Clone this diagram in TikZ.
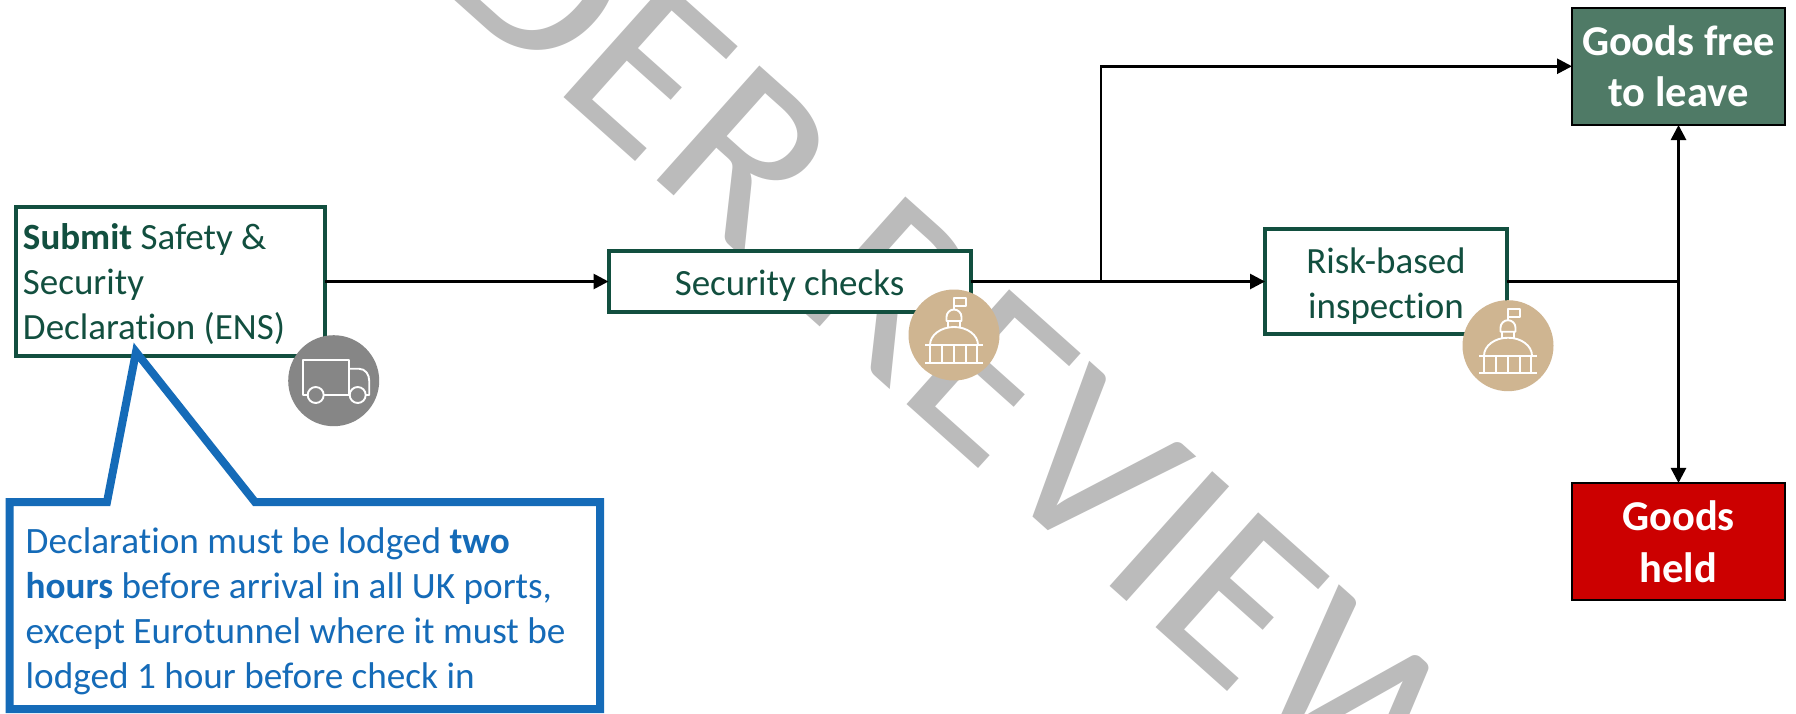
\documentclass[tikz,border=0pt]{standalone}
\usepackage{fontspec}
\setmainfont[Ligatures=NoCommon]{Carlito}
\usetikzlibrary{arrows.meta}
\definecolor{boxgreen}{HTML}{124F3F}
\definecolor{freegreen}{HTML}{4F7A66}
\definecolor{heldred}{HTML}{CC0000}
\definecolor{tan}{HTML}{CFB591}
\definecolor{truckgrey}{HTML}{868686}
\definecolor{callblue}{HTML}{156BB8}
\definecolor{markgrey}{HTML}{BBBBBB}
\newcommand\lifted[1]{\rule{0pt}{#1pt}}
\tikzset{
  x=1pt,y=-1pt,
  stepbox/.style={draw=boxgreen,line width=4pt,fill=white,text=boxgreen,inner sep=0pt,outer sep=0pt,align=center,font=\fontsize{37}{45}\selectfont},
  endbox/.style={draw=black,line width=2pt,text=white,inner sep=0pt,outer sep=0pt,align=center,minimum width=213pt,minimum height=117.5pt,font=\bfseries\fontsize{42.5}{51.5}\selectfont},
  badge/.style={circle,inner sep=0pt,outer sep=0pt,minimum size=91pt},
  link/.style={draw=black,line width=2.7pt,-{Triangle[length=15pt,width=15pt]}},
  plain/.style={draw=black,line width=2.7pt},
  twoway/.style={draw=black,line width=2.7pt,{Triangle[length=15pt,width=15pt]}-{Triangle[length=15pt,width=15pt]}},
  icon/.style={draw=white,line width=1.9pt,line join=round},
  wmark/.style={text=markgrey,font=\fontsize{240}{240}\selectfont,inner sep=0pt,rotate=-41.8,xscale=1.066},
}
\begin{document}
\begin{tikzpicture}
\useasboundingbox (0,0) rectangle (1796,713);
\begin{scope}
\clip (0,0) rectangle (1796,713);
\fill[white] (0,0) rectangle (1796,713);
\node[wmark,anchor=base west] (wm) at (187,-239) {UNDER REVIEW};
\end{scope}

\node[stepbox,minimum width=309pt,minimum height=149pt,text width=295pt,align=flush left] (ens) at (170.5,281.5) {\lifted{32}\textbf{Submit} Safety \&\\Security\\Declaration (ENS)};
\node[stepbox,minimum width=362pt,minimum height=61pt] (sec) at (789.5,281.5) {\lifted{33}Security checks};
\node[stepbox,minimum width=242pt,minimum height=105pt] (risk) at (1386,281.5) {\lifted{35}Risk-based\\inspection};
\node[endbox,fill=freegreen] (free) at (1678.5,66.25) {Goods free\\to leave};
\node[endbox,fill=heldred] (held) at (1678.5,541.7) {Goods\\held};

\coordinate (split) at (1101,281.5);
\coordinate (join) at (1678.5,281.5);
\draw[link] (ens.east) -- (sec.west);
\draw[link] (sec.east) -- (risk.west);
\draw[link] (split) |- (free.west);
\draw[plain] (risk.east) -- (join);
\draw[twoway] (free.south) -- (held.north);

\node[badge,fill=truckgrey] (truck) at (333.7,380.7) {};
\node[badge,fill=tan] (dome1) at (954,335) {};
\node[badge,fill=tan] (dome2) at (1508,345.7) {};

% truck icon
\begin{scope}[shift={(truck.center)}]
\draw[icon] (-26,14.3) -- (-31,14.3) -- (-31,-20.5) -- (15,-20.5) -- (15,14.3) (-10,14.3) -- (16,14.3);
\draw[icon] (15,-12) -- (25,-12) .. controls (32,-12) and (35.5,-6) .. (35.5,0) -- (35.5,14.3) -- (32,14.3);
\draw[icon] (-18,14.3) circle (8) (24,14.3) circle (8);
\end{scope}
% dome icons
\foreach \d in {dome1,dome2}{
\begin{scope}[shift={(\d.center)}]
\draw[icon] (-28.7,10) -- (28.7,10) (-28.7,27.7) -- (28.7,27.7);
\draw[icon] (-24,10) arc[start angle=180,end angle=360,x radius=24,y radius=18];
\draw[icon] (-24,10) -- (-24,27.7) (-12,10) -- (-12,27.7) (0,10) -- (0,27.7) (12,10) -- (12,27.7) (23,10) -- (23,27.7);
\draw[icon] (-6,-8) -- (-6,-14) (6,-8) -- (6,-14);
\draw[icon] (-7.5,-14) -- (-7.5,-18) arc[start angle=180,end angle=360,radius=7.5] -- (7.5,-14) -- cycle;
\draw[icon] (0,-25.5) -- (0,-37) -- (12,-37) -- (12,-29) -- (0,-29);
\end{scope}
}

% callout
\coordinate (tip) at (136,352);
\draw[draw=callblue,fill=white,line width=8pt,miter limit=10] (9.5,502) -- (107,502) -- (tip) -- (255,502) -- (600,502) -- (600,709) -- (9.5,709) -- cycle;
\node[anchor=north west,inner sep=0pt,align=flush left,text=callblue,font=\fontsize{37.2}{45}\selectfont] (note) at (25.5,527) {Declaration must be lodged \textbf{two}\\\textbf{hours} before arrival in all UK ports,\\except Eurotunnel where it must be\\lodged 1 hour before check in};
\end{tikzpicture}
\end{document}
